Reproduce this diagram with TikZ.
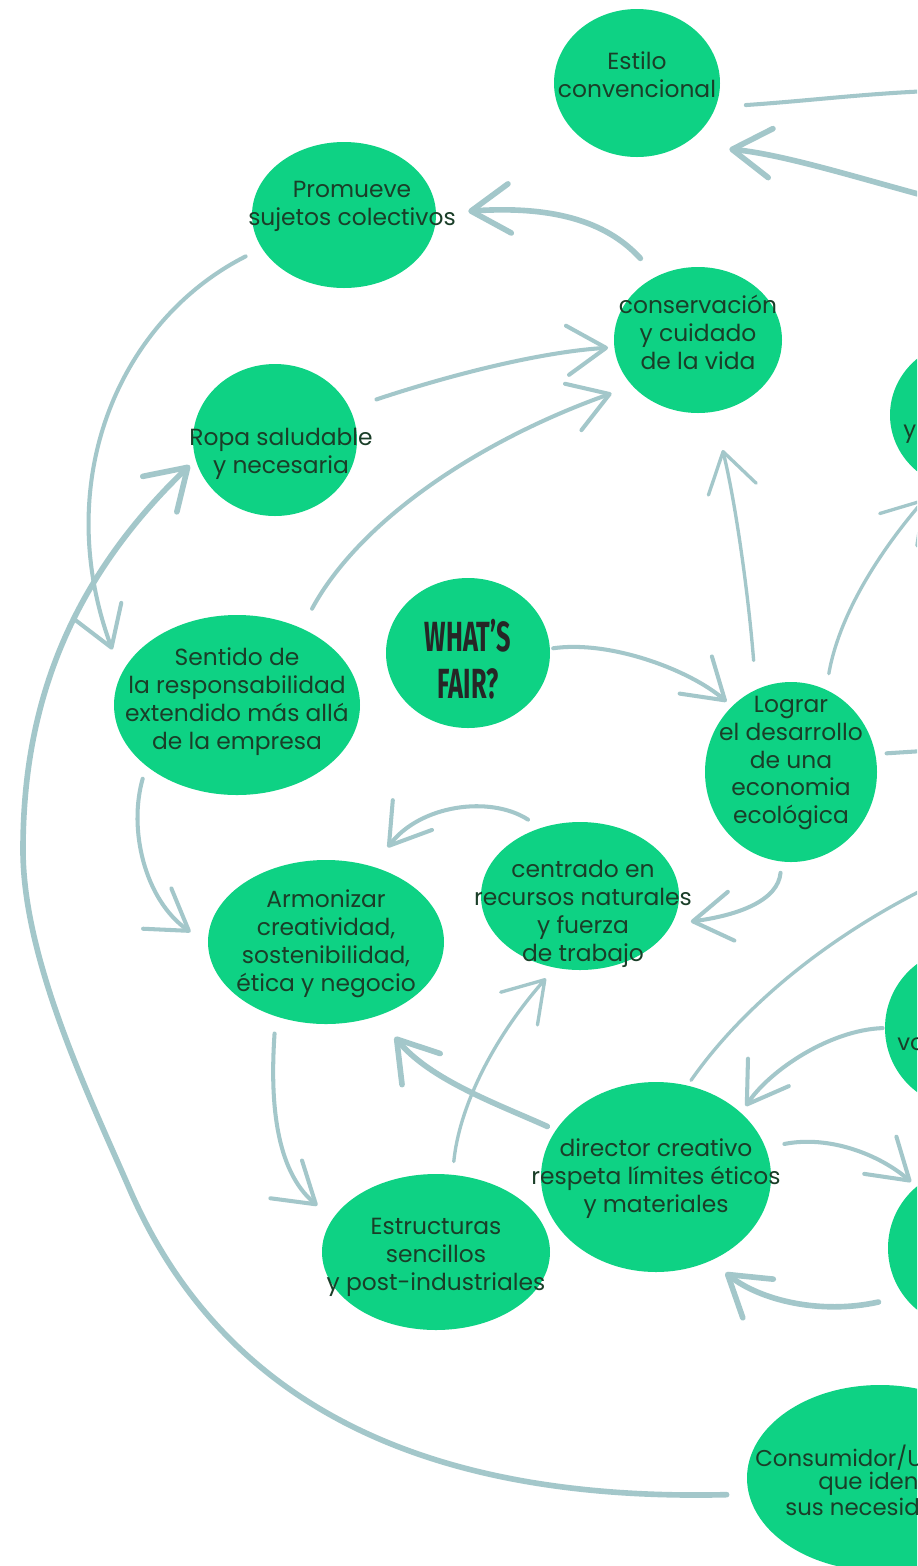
\documentclass[tikz,border=0pt]{standalone}
\usepackage{fontspec}
\usetikzlibrary{shapes.geometric,arrows.meta}
\newfontfamily\bubblefont{Poppins}
\newfontfamily\fairfont[FakeStretch=0.6]{Fira Sans}
\newlength{\pxu}
\setlength{\pxu}{0.02cm}
\definecolor{bubblegreen}{RGB}{14,210,132}
\definecolor{inkgreen}{RGB}{26,62,40}
\definecolor{linkgrey}{RGB}{163,199,202}
\tikzset{
  bubble/.style={ellipse, fill=bubblegreen, inner sep=0pt},
  txt/.style={align=center, text=inkgreen, inner sep=0pt,
    font=\bubblefont\fontsize{13.3pt}{15.9pt}\selectfont},
  frag/.style={text=inkgreen, inner sep=0pt,
    font=\bubblefont\fontsize{13pt}{11.7pt}\selectfont},
  link/.style={draw=linkgrey, line width=2.3pt, line cap=round,
    -{Straight Barb[length=22pt,width=28pt,round]}},
  heavylink/.style={link, line width=3.2pt},
  plainlink/.style={draw=linkgrey, line width=2.3pt, line cap=round},
}
\begin{document}
\begin{tikzpicture}[x=0.02cm, y=-0.02cm]
\useasboundingbox (0,0) rectangle (917,1566);
\fill[white] (0,0) rectangle (917,1566);
\clip (0,0) rectangle (917,1566);

% bubbles
\node[bubble, minimum width=166\pxu, minimum height=148\pxu,
  label={[txt, yshift=8\pxu]center:Estilo\\convencional}] (estilo) at (637,83) {};
\node[bubble, minimum width=184\pxu, minimum height=146\pxu,
  label={[txt, yshift=9\pxu, xshift=8\pxu]center:Promueve\\sujetos colectivos}] (promueve) at (344,215) {};
\node[bubble, minimum width=168\pxu, minimum height=146\pxu,
  label={[txt, yshift=8\pxu]center:conservación\\y cuidado\\de la vida}] (conserv) at (698,340) {};
\node[bubble, minimum width=164\pxu, minimum height=152\pxu,
  label={[txt, yshift=-14\pxu, xshift=6\pxu]center:Ropa saludable\\y necesaria}] (ropa) at (275,440) {};
\node[bubble, minimum width=246\pxu, minimum height=180\pxu,
  label={[txt, yshift=3\pxu]center:Sentido de\\la responsabilidad\\extendido más allá\\de la empresa}] (sentido) at (237,705) {};
\node[bubble, minimum width=164\pxu, minimum height=150\pxu,
  label={[align=center, inner sep=0pt, text=black!85, yshift=-6\pxu,
    font=\fairfont\bfseries\fontsize{24pt}{27pt}\selectfont]center:WHAT’S\\FAIR?}] (fair) at (468,653) {};
\node[bubble, minimum width=172\pxu, minimum height=180\pxu,
  label={[txt, yshift=9\pxu]center:Lograr\\el desarrollo\\de una\\economia\\ecológica}] (lograr) at (791,772) {};
\node[bubble, minimum width=236\pxu, minimum height=164\pxu,
  label={[txt, yshift=-2\pxu]center:{Armonizar\\creatividad,\\sostenibilidad,\\ética y negocio}}] (armonizar) at (326,942) {};
\node[bubble, minimum width=198\pxu, minimum height=148\pxu,
  label={[txt, yshift=-18\pxu, xshift=3\pxu]center:centrado en\\recursos naturales\\y fuerza\\de trabajo}] (centrado) at (580,896) {};
\node[bubble, minimum width=230\pxu, minimum height=190\pxu,
  label={[txt, yshift=-2\pxu]center:director creativo\\respeta límites éticos\\y materiales}] (director) at (656,1177) {};
\node[bubble, minimum width=228\pxu, minimum height=156\pxu,
  label={[txt, yshift=-5\pxu]center:Estructuras\\sencillos\\y post-industriales}] (estructuras) at (436,1252) {};
\node[bubble, minimum width=160\pxu, minimum height=150\pxu] (ynode) at (970,415) {};
\node[bubble, minimum width=160\pxu, minimum height=160\pxu] (vonode) at (965,1028) {};
\node[bubble, minimum width=160\pxu, minimum height=160\pxu] (brnode) at (968,1248) {};
\node[bubble, minimum width=266\pxu, minimum height=186\pxu] (consumidor) at (880,1478) {};

% visible pieces of cut-off texts
\node[frag, anchor=base west] (yfrag) at (903,437) {y};
\node[frag, anchor=base west] (vofrag) at (897,1050) {vo};
\node[frag, anchor=north west, align=left] (consfrag) at (755,1445)
  {Consumidor/U\\\hspace*{63\pxu}que identif\\\hspace*{30\pxu}sus necesid};

% free ends beyond the right edge
\coordinate (offestilo) at (960,90);
\coordinate (toestilo) at (960,205);
\coordinate (offlograr) at (970,748);
\coordinate (offdirector) at (960,872);

% connectors
\draw[plainlink, shorten <=30\pxu] (estilo.-17) .. controls (820,100) and (875,92) .. (offestilo);
\draw[heavylink, shorten >=46\pxu] (toestilo) .. controls (880,185) and (790,155) .. (estilo.-53);
\draw[heavylink, shorten <=24\pxu, shorten >=32\pxu] (conserv.123) .. controls (610,225) and (560,205) .. (promueve.1);
\draw[link, shorten <=18\pxu, shorten >=26\pxu] (promueve.-158) .. controls (120,320) and (50,480) .. (sentido.165);
\draw[link, shorten <=28\pxu, shorten >=6\pxu] (ropa.23) .. controls (450,375) and (540,352) .. (conserv.185);
\draw[link, shorten <=22\pxu, shorten >=22\pxu] (sentido.50) .. controls (360,520) and (480,440) .. (conserv.215);
\draw[link, line width=1.9pt, shorten <=29\pxu, shorten >=39\pxu] (lograr.113) .. controls (748,590) and (735,500) .. (conserv.-78);
\draw[link, shorten <=3\pxu, shorten >=7\pxu] (fair.3) .. controls (610,640) and (690,670) .. (lograr.132);
\draw[link, line width=1.9pt, shorten <=16\pxu, shorten >=20\pxu] (lograr.67) .. controls (840,610) and (885,545) .. (ynode.245);
\draw[plainlink, shorten <=11\pxu] (lograr.12) -- (offlograr);
\draw[heavylink, shorten <=22\pxu, shorten >=8\pxu] (consumidor.187) .. controls (420,1502) and (222,1401) .. (130,1190)
  .. controls (90,1098) and (23,960) .. (23,850)
  .. controls (23,720) and (60,590) .. (ropa.194);
\draw[link, shorten <=13\pxu, shorten >=21\pxu] (sentido.214) .. controls (128,830) and (145,900) .. (armonizar.181);
\draw[link, shorten <=15\pxu, shorten >=24\pxu] (centrado.120) .. controls (490,795) and (420,805) .. (armonizar.58);
\draw[link, shorten <=11\pxu, shorten >=19\pxu] (lograr.-96) .. controls (778,900) and (740,915) .. (centrado.-17);
\draw[link, shorten <=17\pxu, shorten >=20\pxu] (armonizar.236) .. controls (270,1100) and (275,1170) .. (estructuras.162);
\draw[link, line width=1.9pt, shorten <=13\pxu, shorten >=14\pxu] (estructuras.78) .. controls (460,1100) and (500,1030) .. (centrado.251);
\draw[heavylink, shorten <=9\pxu, shorten >=27\pxu] (director.155) .. controls (500,1105) and (430,1080) .. (armonizar.-55);
\draw[plainlink, line width=1.9pt, shorten <=6\pxu] (director.71) .. controls (740,1010) and (830,930) .. (offdirector);
\draw[link, shorten <=2\pxu, shorten >=8\pxu] (vonode.180) .. controls (830,1030) and (770,1070) .. (director.37);
\draw[link, shorten <=19\pxu, shorten >=7\pxu] (director.15) .. controls (830,1135) and (880,1155) .. (brnode.130);
\draw[heavylink, shorten <=26\pxu, shorten >=19\pxu] (brnode.217) .. controls (820,1315) and (760,1300) .. (director.-57);
\end{tikzpicture}
\end{document}
